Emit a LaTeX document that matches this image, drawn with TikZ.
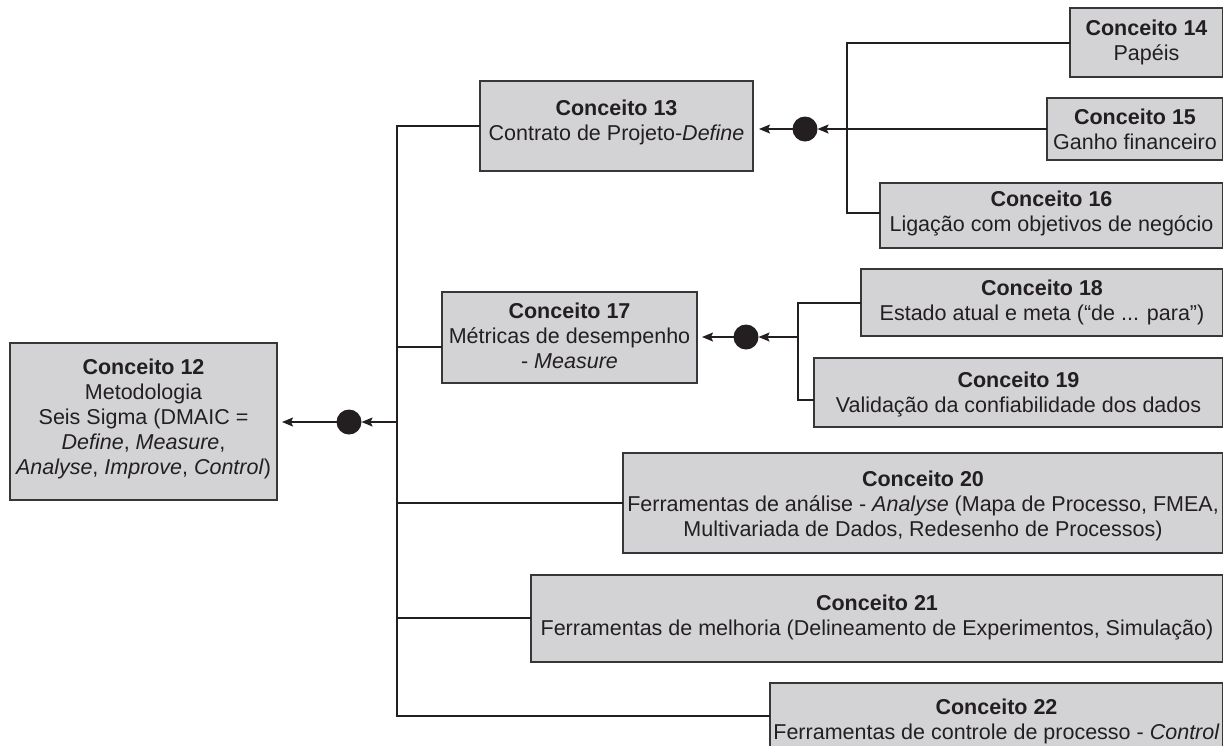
\documentclass[tikz,border=0pt]{standalone}
\usepackage{fontspec}
\setmainfont{Liberation Sans}
\usetikzlibrary{arrows.meta}
\definecolor{boxfill}{RGB}{211,211,213}
\definecolor{ink}{RGB}{35,31,32}
\definecolor{edge}{RGB}{55,55,55}

\begin{document}
\begin{tikzpicture}[x=1pt,y=-1pt,
  box/.style={draw=edge, line width=1.4pt, fill=boxfill, inner sep=0pt, outer sep=0pt},
  lbl/.style={align=center, font=\fontsize{21.5}{25}\selectfont, text=ink, inner sep=0pt},
  link/.style={draw=ink, line width=1.4pt},
  arr/.style={link, -{Stealth[length=11pt,width=9pt,inset=2pt]}},
  hub/.style={circle, fill=ink, minimum size=25pt, inner sep=0pt, outer sep=0pt}]
\useasboundingbox (0,0) rectangle (1223,745);
\clip (0,0) rectangle (1223,745);

% concept boxes
\node[box, minimum width=267pt, minimum height=157pt] (b12) at (143.5,421.5) {};
\node[box, minimum width=273pt, minimum height=90pt]  (b13) at (616.5,126) {};
\node[box, minimum width=153pt, minimum height=69pt]  (b14) at (1146.5,42.5) {};
\node[box, minimum width=176pt, minimum height=62pt]  (b15) at (1135,129) {};
\node[box, minimum width=343pt, minimum height=65pt]  (b16) at (1051.5,215.5) {};
\node[box, minimum width=255pt, minimum height=91pt]  (b17) at (569.5,337.5) {};
\node[box, minimum width=362pt, minimum height=67pt]  (b18) at (1042,302.5) {};
\node[box, minimum width=409pt, minimum height=69pt]  (b19) at (1018.5,392.5) {};
\node[box, minimum width=600pt, minimum height=100pt] (b20) at (923,503) {};
\node[box, minimum width=692pt, minimum height=87pt]  (b21) at (877,618.5) {};
\node[box, minimum width=453pt, minimum height=88pt]  (b22) at (996.5,727) {};

% box texts
\node[lbl] (l12) at (143.5,419) {\textbf{Conceito 12}\\Metodologia\\Seis Sigma (DMAIC =\\\textit{Define}, \textit{Measure},\\\textit{Analyse}, \textit{Improve}, \textit{Control})};
\node[lbl] (l13) at (616.5,122.5) {\textbf{Conceito 13}\\Contrato de Projeto-\textit{Define}};
\node[lbl] (l14) at (1146.5,42.5) {\textbf{Conceito 14}\\Papéis};
\node[lbl] (l15) at (1135,129.5) {\textbf{Conceito 15}\\Ganho financeiro};
\node[lbl] (l16) at (1051.5,213.5) {\textbf{Conceito 16}\\Ligação com objetivos de negócio};
\node[lbl] (l17) at (569.5,336) {\textbf{Conceito 17}\\Métricas de desempenho\\- \textit{Measure}};
\node[lbl] (l18) at (1042,302) {\textbf{Conceito 18}\\Estado atual e meta (“de ... para”)};
\node[lbl] (l19) at (1018.5,394) {\textbf{Conceito 19}\\Validação da confiabilidade dos dados};
\node[lbl] (l20) at (923,506) {\textbf{Conceito 20}\\Ferramentas de análise - \textit{Analyse} (Mapa de Processo, FMEA,\\Multivariada de Dados, Redesenho de Processos)};
\node[lbl] (l21) at (877,617) {\textbf{Conceito 21}\\Ferramentas de melhoria (Delineamento de Experimentos, Simulação)};
\node[lbl] (l22) at (996.5,721) {\textbf{Conceito 22}\\Ferramentas de controle de processo - \textit{Control}};

% main trunk and its branches
\coordinate (t13) at (397,126);
\coordinate (t17) at (397,347);
\coordinate (t12) at (397,422);
\coordinate (t20) at (397,503);
\coordinate (t21) at (397,618);
\coordinate (t22) at (397,716);
\draw[link] (t13 -| b13.west) -- (t13) -- (t22) -- (t22 -| b22.west);
\draw[link] (t17) -- (t17 -| b17.west);
\draw[link] (t20) -- (t20 -| b20.west);
\draw[link] (t21) -- (t21 -| b21.west);
\node[hub] (d12) at (349,422) {};
\draw[arr] (t12) -- (d12);
\draw[arr, shorten >=5pt] (d12) -- (d12 -| b12.east);

% group of concept 13
\coordinate (v13a) at (847,43);
\coordinate (v13b) at (847,213);
\draw[link] (v13a -| b14.west) -- (v13a) -- (v13b) -- (v13b -| b16.west);
\node[hub] (d13) at (805,129) {};
\draw[arr] (b15.west) -- (d13);
\draw[arr, shorten >=6pt] (d13) -- (d13 -| b13.east);

% group of concept 17
\coordinate (v17a) at (798,303);
\coordinate (v17b) at (798,400);
\coordinate (v17m) at (798,337);
\draw[link] (v17a -| b18.west) -- (v17a) -- (v17b) -- (v17b -| b19.west);
\node[hub] (d17) at (746,337) {};
\draw[arr] (v17m) -- (d17);
\draw[arr, shorten >=5pt] (d17) -- (d17 -| b17.east);
\end{tikzpicture}
\end{document}
